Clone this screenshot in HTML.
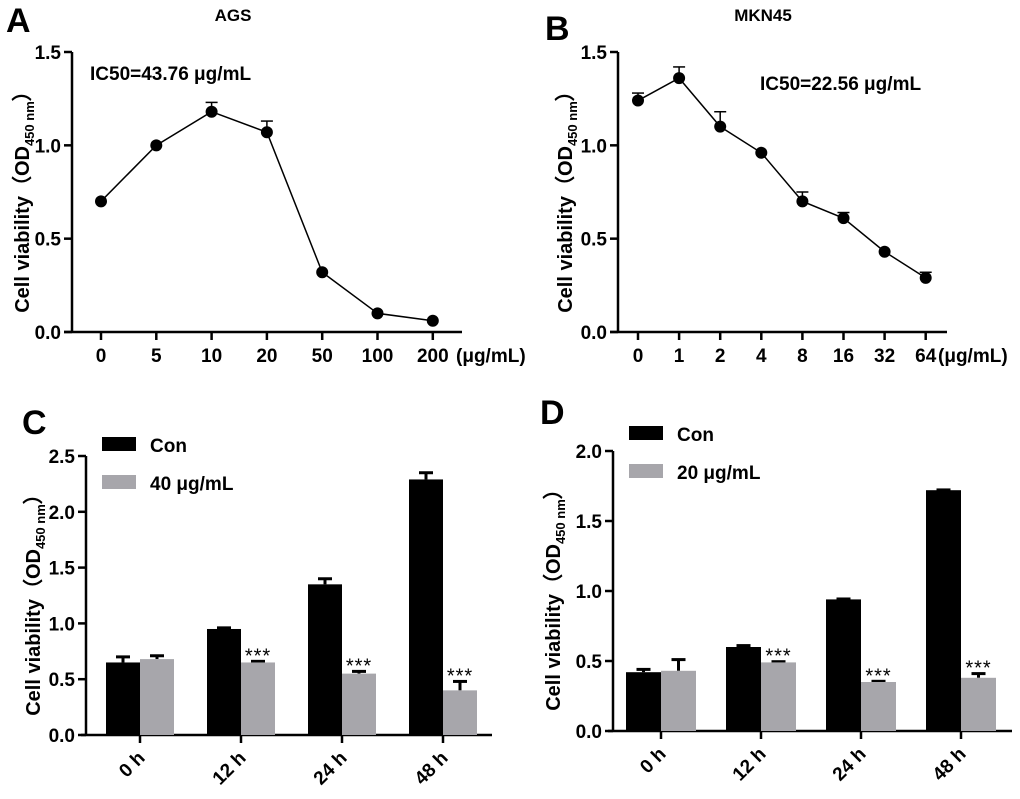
<!DOCTYPE html>
<html><head><meta charset="utf-8">
<style>
body{margin:0;background:#fff;}
svg{display:block;font-family:"Liberation Sans",Arial,sans-serif;font-weight:bold;}
</style></head>
<body>
<svg id="fig" width="1020" height="799" viewBox="0 0 1020 799">
<text x="6" y="32" font-size="34">A</text>
<text x="233" y="21" font-size="17" text-anchor="middle">AGS</text>
<text x="90" y="80" font-size="19">IC50=43.76 μg/mL</text>
<text x="545" y="40" font-size="34">B</text>
<text x="763" y="21" font-size="17" text-anchor="middle">MKN45</text>
<text x="760" y="90" font-size="19">IC50=22.56 μg/mL</text>
<text x="22" y="434" font-size="34">C</text>
<text x="540" y="424" font-size="34">D</text>
<g id="gA"></g>
<g id="gB"></g>
<g id="gC"></g>
<g id="gD"></g>
</svg>
<script>
const aCats=["0","5","10","20","50","100","200"];
const aVals=[0.70,1.00,1.18,1.07,0.32,0.10,0.06];
const aErr=[0,0,0.05,0.06,0,0,0];
const bCats=["0","1","2","4","8","16","32","64"];
const bVals=[1.24,1.36,1.10,0.96,0.70,0.61,0.43,0.29];
const bErr=[0.04,0.06,0.08,0,0.05,0.03,0,0.03];
const lineTicks=[0,0.5,1.0,1.5];
const barCats=["0 h","12 h","24 h","48 h"];
const cCon=[0.65,0.95,1.35,2.29];
const cConErr=[0.05,0.01,0.05,0.06];
const cTrt=[0.68,0.65,0.55,0.40];
const cTrtErr=[0.03,0.01,0.02,0.08];
const cTicks=[0,0.5,1.0,1.5,2.0,2.5];
const dCon=[0.42,0.60,0.94,1.72];
const dConErr=[0.02,0.01,0.003,0.002];
const dTrt=[0.43,0.49,0.35,0.38];
const dTrtErr=[0.08,0.005,0.005,0.03];
const dTicks=[0,0.5,1.0,1.5,2.0];
const sig=["","***","***","***"];

const NS="http://www.w3.org/2000/svg";
function mk(p,t,a,txt){const e=document.createElementNS(NS,t);for(const k in a)e.setAttribute(k,a[k]);if(txt!==undefined)e.textContent=txt;p.appendChild(e);return e;}

function yTitle(g,x,yc){
  const t=mk(g,"text",{transform:`translate(${x},${yc}) rotate(-90)`,"font-size":"20","text-anchor":"middle"});
  
  
  t.innerHTML='Cell viability（OD<tspan font-size="13" dy="5">450 nm</tspan><tspan dy="-5">）</tspan>';
}

function linePanel(g,cats,vals,errs,ax){
  const y=v=>ax.y0-(v/ax.ymax)*(ax.y0-ax.ytop);
  const x=i=>ax.x0+i*ax.step;
  mk(g,"line",{x1:ax.ax,y1:ax.ytop,x2:ax.ax,y2:ax.y0,stroke:"#000","stroke-width":2.5});
  mk(g,"line",{x1:ax.ax-8,y1:ax.y0,x2:ax.xend,y2:ax.y0,stroke:"#000","stroke-width":2.5});
  ax.ticks.forEach(t=>{
    mk(g,"line",{x1:ax.ax-8,y1:y(t),x2:ax.ax,y2:y(t),stroke:"#000","stroke-width":2.5});
    const l=mk(g,"text",{x:ax.ax-11,y:y(t)+7,"font-size":"19","text-anchor":"end"},t.toFixed(1));
    
    
  });
  cats.forEach((c,i)=>{
    mk(g,"line",{x1:x(i),y1:ax.y0,x2:x(i),y2:ax.y0+8,stroke:"#000","stroke-width":2.5});
    const l=mk(g,"text",{x:x(i),y:ax.y0+30,"font-size":"19","text-anchor":"middle"},c);
    
    
  });
  const u=mk(g,"text",{x:ax.unitX,y:ax.y0+30,"font-size":"19"},"(μg/mL)");
  
  
  const pts=vals.map((v,i)=>x(i)+","+y(v)).join(" ");
  const pl=mk(g,"polyline",{points:pts,fill:"none",stroke:"#000","stroke-width":1.5});
  
  
  vals.forEach((v,i)=>{
    if(errs[i]>0){
      mk(g,"line",{x1:x(i),y1:y(v),x2:x(i),y2:y(v+errs[i]),stroke:"#000","stroke-width":1.5});
      mk(g,"line",{x1:x(i)-6,y1:y(v+errs[i]),x2:x(i)+6,y2:y(v+errs[i]),stroke:"#000","stroke-width":1.5});
    }
    const c=mk(g,"circle",{cx:x(i),cy:y(v),r:6,fill:"#000"});
    
    
  });
}

function barPanel(g,con,conE,trt,trtE,ticks,ax,legend){
  const ymax=ticks[ticks.length-1];
  const y=v=>ax.y0-(v/ymax)*(ax.y0-ax.ytop);
  const bw=ax.bw;
  mk(g,"line",{x1:ax.ax,y1:ax.ytop,x2:ax.ax,y2:ax.y0,stroke:"#000","stroke-width":2.5});
  mk(g,"line",{x1:ax.ax-5,y1:ax.y0,x2:ax.xend,y2:ax.y0,stroke:"#000","stroke-width":2.5});
  ticks.forEach(t=>{
    mk(g,"line",{x1:ax.ax-8,y1:y(t),x2:ax.ax,y2:y(t),stroke:"#000","stroke-width":2.5});
    const l=mk(g,"text",{x:ax.ax-11,y:y(t)+7,"font-size":"19","text-anchor":"end"},t.toFixed(1));
    
    
  });
  barCats.forEach((c,i)=>{
    const cx=ax.x0+i*ax.step;
    mk(g,"line",{x1:cx,y1:ax.y0,x2:cx,y2:ax.y0+8,stroke:"#000","stroke-width":2.5});
    const l=mk(g,"text",{transform:`translate(${cx+6},${ax.y0+24}) rotate(-45)`,"font-size":"19","text-anchor":"end"},c);
    
    
    [[con,conE,"#000",cx-bw,"bar-con"],[trt,trtE,"#a7a6ab",cx,"bar-treated"]].forEach(([vals,errs,col,bx,nm])=>{
      const v=vals[i],e=errs[i];
      mk(g,"line",{x1:bx+bw/2,y1:y(v),x2:bx+bw/2,y2:y(v+e),stroke:"#000","stroke-width":3});
      mk(g,"rect",{x:bx+bw/2-7,y:y(v+e)-1.5,width:14,height:3,fill:"#000"});
      const r=mk(g,"rect",{x:bx,y:y(v),width:bw,height:ax.y0-y(v),fill:col});
      
      
    });
    if(sig[i]){
      const s=mk(g,"text",{x:cx+bw/2,y:y(trt[i]+trtE[i])+1,"font-size":"20","font-weight":"normal","text-anchor":"middle","letter-spacing":"1"},sig[i]);
      
      
    }
  });
  const lr1=mk(g,"rect",{x:legend.x,y:legend.y1,width:34,height:14,fill:"#000"});
  
  
  const lt1=mk(g,"text",{x:legend.x+48,y:legend.y1+15,"font-size":"19"},"Con");
  
  
  const lr2=mk(g,"rect",{x:legend.x,y:legend.y2,width:34,height:14,fill:"#a7a6ab"});
  
  
  const lt2=mk(g,"text",{x:legend.x+48,y:legend.y2+15,"font-size":"19"},legend.label);
  
  
}

const gA=document.getElementById("gA"),gB=document.getElementById("gB"),gC=document.getElementById("gC"),gD=document.getElementById("gD");
yTitle(gA,29,197);
linePanel(gA,aCats,aVals,aErr,{ax:72,ytop:52,y0:332,ymax:1.5,x0:101,step:55.3,xend:462,ticks:lineTicks,unitX:456});
yTitle(gB,572,197);
linePanel(gB,bCats,bVals,bErr,{ax:618,ytop:52,y0:332,ymax:1.5,x0:638,step:41.1,xend:947,ticks:lineTicks,unitX:938});
yTitle(gC,40,600);
barPanel(gC,cCon,cConErr,cTrt,cTrtErr,cTicks,{ax:86,ytop:456,y0:735,x0:140,step:101,bw:34,xend:492},{x:102,y1:437,y2:475,label:"40 μg/mL"});
yTitle(gD,560,595);
barPanel(gD,dCon,dConErr,dTrt,dTrtErr,dTicks,{ax:613,ytop:451,y0:731,x0:661,step:100,bw:35,xend:1012},{x:629,y1:426,y2:464,label:"20 μg/mL"});
</script>
</body></html>
